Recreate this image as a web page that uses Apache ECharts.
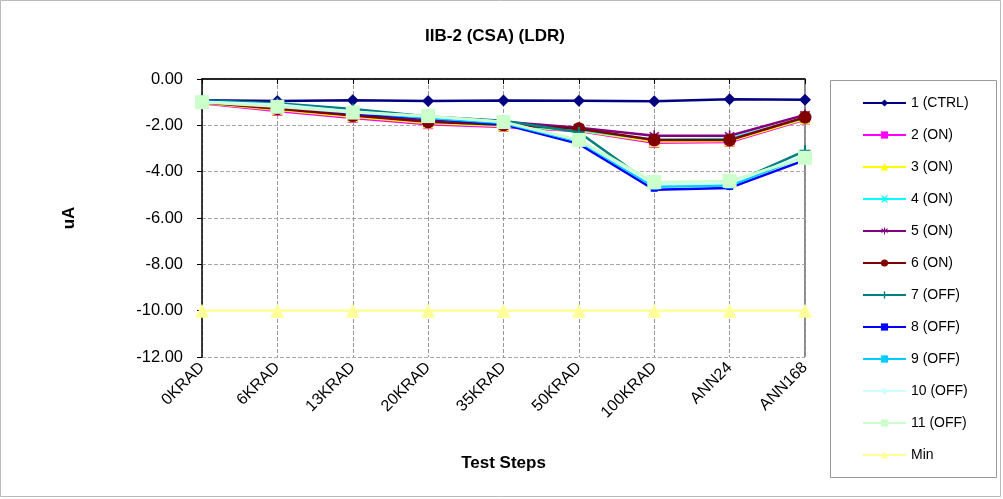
<!DOCTYPE html>
<html><head><meta charset="utf-8">
<script src="https://cdn.jsdelivr.net/npm/echarts@6/dist/echarts.min.js"></script>
<style>html,body{margin:0;padding:0;background:#fff}#c{width:1003px;height:499px}</style>
</head><body><div id="c"></div>
<script>
const categories = ['0KRAD','6KRAD','13KRAD','20KRAD','35KRAD','50KRAD','100KRAD','ANN24','ANN168'];
const yTicks = [0,-2,-4,-6,-8,-10,-12];
const s1 = [-0.92,-0.95,-0.92,-0.95,-0.93,-0.94,-0.96,-0.87,-0.90];
const s2 = [-1.05,-1.38,-1.68,-1.95,-2.07,-2.25,-2.75,-2.72,-1.75];
const s3 = [-1.03,-1.33,-1.63,-1.90,-2.03,-2.22,-2.70,-2.68,-1.72];
const s4 = [-1.00,-1.25,-1.55,-1.83,-2.00,-2.20,-2.62,-2.58,-1.68];
const s5 = [-0.98,-1.22,-1.55,-1.75,-1.85,-2.10,-2.45,-2.45,-1.55];
const s6 = [-1.00,-1.28,-1.58,-1.85,-1.98,-2.15,-2.63,-2.63,-1.65];
const s7 = [-0.92,-1.05,-1.30,-1.62,-1.80,-2.30,-4.62,-4.55,-3.10];
const s8 = [-0.95,-1.15,-1.48,-1.70,-1.95,-2.80,-4.78,-4.70,-3.50];
const s9 = [-0.97,-1.12,-1.42,-1.68,-1.90,-2.70,-4.65,-4.60,-3.35];
const s10 = [-0.98,-1.10,-1.40,-1.62,-1.85,-2.65,-4.55,-4.50,-3.30];
const s11 = [-1.00,-1.20,-1.45,-1.60,-1.86,-2.63,-4.45,-4.40,-3.40];
const sMin = [-10,-10,-10,-10,-10,-10,-10,-10,-10];
const names = ['1 (CTRL)','2 (ON)','3 (ON)','4 (ON)','5 (ON)','6 (ON)','7 (OFF)','8 (OFF)','9 (OFF)','10 (OFF)','11 (OFF)','Min'];
const datas = [s1,s2,s3,s4,s5,s6,s7,s8,s9,s10,s11,sMin];
const colors = ['#000080','#FF00FF','#FFFF00','#00FFFF','#800080','#800000','#008080','#0000FF','#00CCFF','#CCFFFF','#CCFFCC','#FFFF99'];
const X = 'path://M0,0L2,0L5,3L8,0L10,0L6,5L10,10L8,10L5,7L2,10L0,10L4,5Z';
const AST = 'path://M4.3,0H5.7V3.6L8.6,1.3L9.5,2.4L6.4,4.7L9.8,6.2L9.2,7.5L5.7,6V10H4.3V6L0.8,7.5L0.2,6.2L3.6,4.7L0.5,2.4L1.4,1.3L4.3,3.6Z';
const PLUS = 'path://M4,0H6V4H10V6H6V10H4V6H0V4H4Z';
const symbols = ['diamond','rect','triangle',X,AST,'circle',PLUS,'rect','rect','diamond','rect','triangle'];
const sizes = [12,10,11,9,11,13,11,[7,4],[9,6],10,14,14];
const FF = 'Liberation Sans, Arial, sans-serif';
const series = names.map((n,i)=>({
  name:n, type:'line', data:datas[i], symbol:symbols[i], symbolSize:sizes[i],
  lineStyle:{color:colors[i], width:2.5}, itemStyle:{color:colors[i]},
  emphasis:{disabled:true}, animation:false, z:2+i
}));
const chart = echarts.init(document.getElementById('c'));
chart.setOption({
  animation:false,
  textStyle:{fontFamily:FF},
  title:{text:'IIB-2 (CSA) (LDR)', left:490, top:23, textAlign:'center',
    textStyle:{fontSize:17, fontWeight:'bold', color:'#000', fontFamily:FF}},
  grid:{left:202, right:198, top:79, bottom:142},
  legend:{orient:'vertical', left:857, top:91, itemWidth:43, itemHeight:9, itemGap:18,
    textStyle:{fontSize:14, color:'#000', fontFamily:FF, lineHeight:14}, data:names, selectedMode:false},
  graphic:[
    {type:'rect', shape:{x:0.5,y:0.5,width:1000,height:496}, style:{fill:null, stroke:'#bbb', lineWidth:1}, silent:true},
    {type:'rect', shape:{x:830.5,y:80.5,width:166,height:397}, style:{fill:null, stroke:'#999', lineWidth:1}, silent:true},
    {type:'line', shape:{x1:202,y1:79,x2:805,y2:79}, style:{stroke:'#888', lineWidth:2}, silent:true},
    {type:'line', shape:{x1:805,y1:79,x2:805,y2:357}, style:{stroke:'#888', lineWidth:2}, silent:true}
  ],
  xAxis:{type:'category', data:categories, boundaryGap:false,
    name:'Test Steps', nameLocation:'middle', nameGap:98,
    nameTextStyle:{fontSize:17, fontWeight:'bold', color:'#000'},
    axisLine:{lineStyle:{color:'#000', width:1.5}},
    axisTick:{show:true, alignWithLabel:true, length:5, lineStyle:{color:'#000'}},
    axisLabel:{rotate:45, fontSize:16, color:'#000', margin:8, interval:0},
    splitLine:{show:true, lineStyle:{color:'#999', type:'dashed', width:1}}
  },
  yAxis:{type:'value', min:-12, max:0, interval:2,
    name:'uA', nameLocation:'middle', nameGap:124, nameRotate:90,
    nameTextStyle:{fontSize:17, fontWeight:'bold', color:'#000'},
    axisLine:{show:true, lineStyle:{color:'#000', width:1.5}},
    axisTick:{show:true, length:5, lineStyle:{color:'#000'}},
    axisLabel:{fontSize:16.5, color:'#000', margin:19, formatter:v=>v.toFixed(2)},
    splitLine:{show:true, lineStyle:{color:'#aaa', type:'dashed', width:1}}
  },
  series:series
});
</script></body></html>
